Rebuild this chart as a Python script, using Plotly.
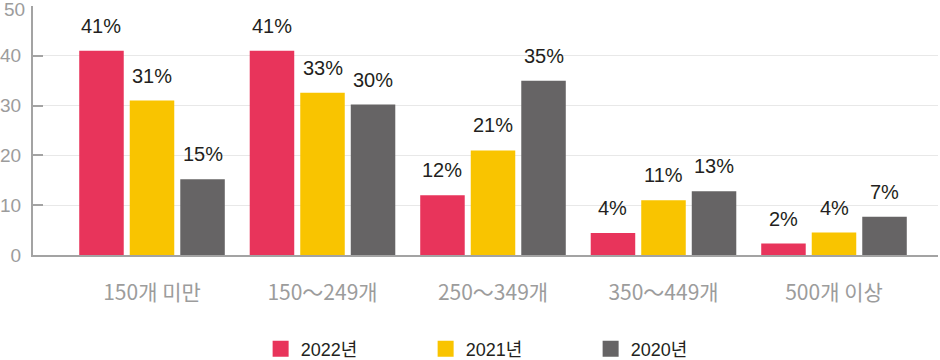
import plotly.graph_objects as go

categories = ["150개 미만", "150～249개", "250～349개", "350～449개", "500개 이상"]
series_names = ["2022년", "2021년", "2020년"]
values_2022 = [41, 41, 12, 4.4, 2.3]
values_2021 = [31, 32.6, 21, 11, 4.5]
values_2020 = [15.2, 30.2, 35, 12.8, 7.7]
labels_2022 = ["41%", "41%", "12%", "4%", "2%"]
labels_2021 = ["31%", "33%", "21%", "11%", "4%"]
labels_2020 = ["15%", "30%", "35%", "13%", "7%"]
y_ticks = [0, 10, 20, 30, 40, 50]
y_tick_labels = ["0", "10", "20", "30", "40", "50"]

colors = ["#e8345b", "#f9c400", "#666465"]
all_values = [values_2022, values_2021, values_2020]
all_labels = [labels_2022, labels_2021, labels_2020]

BARGAP = 0.111
BARGROUPGAP = 0.119
x_idx = list(range(len(categories)))
tick_font = dict(family="Liberation Sans, Arial, sans-serif", size=19, color="#9c9c9c")

fig = go.Figure()
for name, vals, col in zip(series_names, all_values, colors):
    fig.add_trace(go.Bar(
        x=x_idx, y=vals, name=name, marker=dict(color=col, line=dict(width=0)),
        showlegend=False, hoverinfo="skip",
    ))
# legend entries with larger square swatches
for name, col in zip(series_names, colors):
    fig.add_trace(go.Scatter(
        x=[None], y=[None], mode="markers", name=name,
        marker=dict(symbol="square", size=16, color=col), showlegend=True,
    ))

slot = (1 - BARGAP) / len(series_names)
annotations = []
for j, labs in enumerate(all_labels):
    off = (j - (len(series_names) - 1) / 2) * slot
    for i, (v, t) in enumerate(zip(all_values[j], labs)):
        annotations.append(dict(
            x=i + off, y=v, xref="x", yref="y", text=t, showarrow=False,
            yanchor="middle", xanchor="center", yshift=25,
            font=dict(family="Liberation Sans, Arial, sans-serif", size=20, color="#231f20"),
        ))
# top y tick label nudged down so it stays inside the page
annotations.append(dict(
    x=0, y=y_ticks[-1], xref="paper", yref="y", text=y_tick_labels[-1], showarrow=False,
    xanchor="right", yanchor="middle", xshift=-6, yshift=-3, font=tick_font,
))

fig.update_layout(
    width=940, height=360,
    margin=dict(l=33, r=2, t=6, b=105, autoexpand=False),
    paper_bgcolor="white", plot_bgcolor="white",
    barmode="group", bargap=BARGAP, bargroupgap=BARGROUPGAP,
    annotations=annotations,
    showlegend=True,
    legend=dict(
        orientation="h", x=0.525, xanchor="center", y=-0.378, yanchor="middle",
        font=dict(family="Liberation Sans, Noto Sans CJK KR, sans-serif", size=18, color="#231f20"),
        entrywidth=120, itemclick=False, itemdoubleclick=False,
    ),
    xaxis=dict(
        tickmode="array", tickvals=x_idx, ticktext=categories,
        range=[-0.698, 4.61], showgrid=False, zeroline=False, automargin=False,
        showline=True, linecolor="#a3a3a3", linewidth=2,
        ticks="", ticklabelstandoff=18,
        tickfont=dict(family="Noto Sans CJK KR, sans-serif", size=21, color="#9c9c9c"),
    ),
    yaxis=dict(
        range=[0, 50], tickmode="array", tickvals=y_ticks,
        ticktext=y_tick_labels[:-1] + [""],
        showgrid=True, gridcolor="#e8e8e8", gridwidth=1,
        zeroline=False, showline=True, linecolor="#a3a3a3", linewidth=2, automargin=False,
        ticks="inside", ticklen=10, tickcolor="#a3a3a3", tickwidth=2,
        ticklabelstandoff=6, ticklabeloverflow="allow",
        tickfont=tick_font,
    ),
)

# remove the page's default 8px body margin so the figure fills the window
fig.write_html("out.html", config={"displayModeBar": False},
               post_script="document.body.style.margin='0';")
